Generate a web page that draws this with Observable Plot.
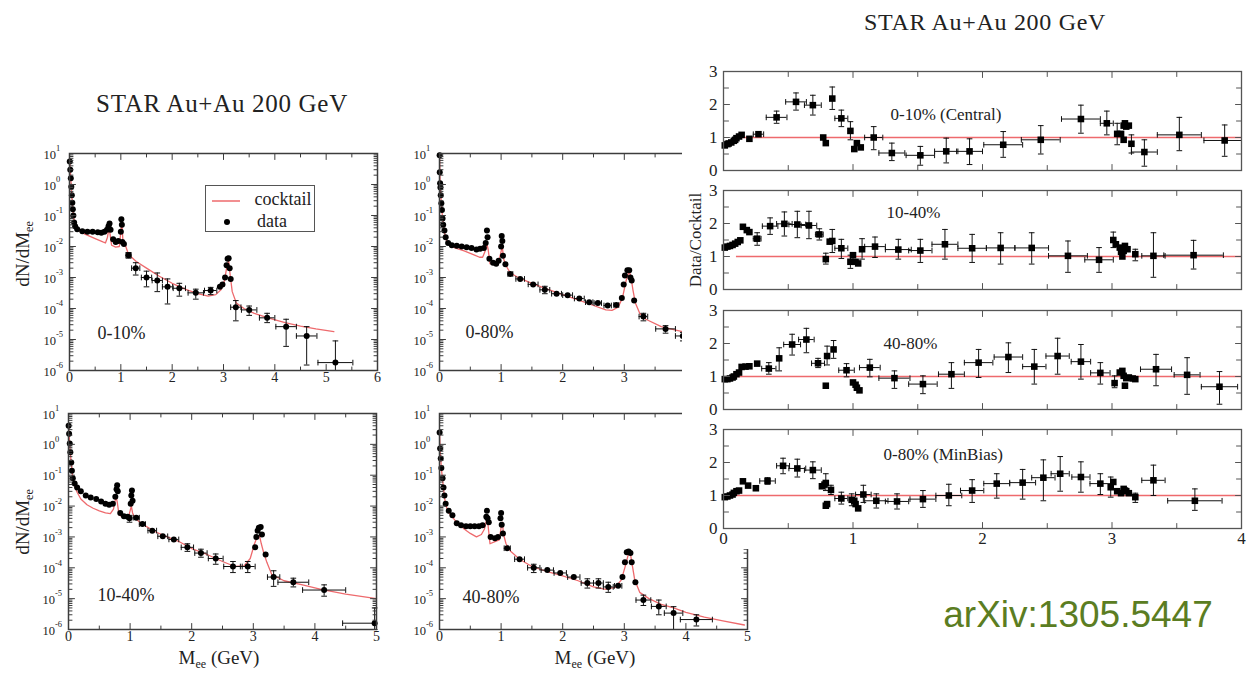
<!DOCTYPE html>
<html><head><meta charset="utf-8">
<script src="https://cdn.jsdelivr.net/npm/d3@7"></script>
<script src="https://cdn.jsdelivr.net/npm/@observablehq/plot@0.6"></script>
<style>
body{margin:0;background:#fff;}
#fig{position:relative;width:1252px;height:673px;overflow:hidden;background:#fff;font-family:"Liberation Serif","Times New Roman",serif;color:#222;}
#fig svg{position:absolute;}
.t{position:absolute;white-space:nowrap;line-height:1;}
</style></head><body><div id="fig"></div>
<script>
// ---------- tick / label arrays ----------
const xTicks6 = [0, 1, 2, 3, 4, 5, 6];
const xTicks5 = [0, 1, 2, 3, 4, 5];
const decades = [1e-6, 1e-5, 1e-4, 1e-3, 1e-2, 1e-1, 1, 10];
const ratioXTicks = [0, 1, 2, 3, 4];
const ratioYTicks = [0, 1, 2, 3];
const refRange = [0.1, 4];
const panelLabels = ["0-10%", "0-80%", "10-40%", "40-80%"];
const ratioLabels = ["0-10% (Central)", "10-40%", "40-80%", "0-80% (MinBias)"];

// ---------- dN/dMee spectra: [M, value, halfWidthM, lowEnd, highEnd] ----------
const data0010 = [[0.005,5.5],[0.015,3.0],[0.025,1.6],[0.035,0.85],[0.045,0.45],[0.055,0.26],[0.065,0.16],[0.075,0.1],[0.09,0.06],[0.11,0.045],[0.15,0.036],[0.25,0.031],[0.35,0.03],[0.45,0.03],[0.55,0.029],[0.62,0.028],[0.68,0.03],[0.73,0.035],[0.76,0.045],[0.78,0.055],[0.80,0.035],[0.85,0.017],[0.9,0.014],[0.95,0.015],[1.0,0.03],[1.01,0.075],[1.02,0.05],[1.03,0.014],[1.06,0.012],[1.15,0.0052,0.05,0.0042,0.0064],[1.29,0.002,0.08,0.0012,0.003],[1.5,0.001,0.1,0.0005,0.0016],[1.71,8e-4,0.1,3.5e-4,1.4e-3],[1.91,5e-4,0.1,1.4e-4,9e-4],[2.14,4.5e-4,0.12,2.5e-4,6.5e-4],[2.46,3.2e-4,0.15,2e-4,4.2e-4],[2.75,3.8e-4,0.12,2.8e-4,4.8e-4],[2.93,5e-4],[2.98,6e-4],[3.03,1e-3],[3.06,2.5e-3],[3.08,4e-3],[3.1,4.2e-3],[3.12,2e-3],[3.14,9e-4],[3.24,1.1e-4,0.1,4e-5,1.8e-4],[3.5,9e-5,0.15,6e-5,1.2e-4],[3.85,5e-5,0.15,3.5e-5,7e-5],[4.22,2.6e-5,0.2,6e-6,4.5e-5],[4.62,1.3e-5,0.2,1.5e-6,2.6e-5],[5.18,1.8e-6,0.34,1e-6,9e-6]];
const cocktail0010 = [[0.005,5.5],[0.02,2.2],[0.04,0.55],[0.06,0.2],[0.08,0.09],[0.1,0.055],[0.15,0.035],[0.3,0.025],[0.5,0.018],[0.65,0.014],[0.7,0.013],[0.74,0.02],[0.77,0.04],[0.79,0.025],[0.82,0.011],[0.9,0.0095],[0.97,0.01],[1.0,0.03],[1.02,0.06],[1.04,0.016],[1.08,0.012],[1.15,0.0055],[1.3,0.0033],[1.5,0.002],[1.75,0.0011],[2.0,6.5e-4],[2.25,4.2e-4],[2.5,3e-4],[2.7,2.5e-4],[2.85,2.8e-4],[2.95,4e-4],[3.02,8e-4],[3.07,2.5e-3],[3.1,3.5e-3],[3.13,1.2e-3],[3.17,3.5e-4],[3.25,1.5e-4],[3.4,1e-4],[3.6,7e-5],[3.9,4.8e-5],[4.2,3.5e-5],[4.5,2.7e-5],[4.8,2.2e-5],[5.15,1.8e-5]];

const data0080 = [[0.002,8.7],[0.004,2.5],[0.01,1.1],[0.015,0.8],[0.02,0.45],[0.03,0.25],[0.04,0.15],[0.05,0.08],[0.06,0.05],[0.08,0.033],[0.1,0.02],[0.14,0.013],[0.2,0.011],[0.28,0.0105],[0.36,0.01],[0.44,0.0095],[0.52,0.009],[0.6,0.008],[0.66,0.0085],[0.72,0.009],[0.75,0.013],[0.77,0.033],[0.78,0.02],[0.81,0.004],[0.87,0.003],[0.92,0.0028],[0.96,0.0035],[1.0,0.01],[1.01,0.022],[1.02,0.015],[1.03,0.005],[1.07,0.0027],[1.15,0.0013,0.04],[1.31,9e-4,0.07],[1.52,6e-4,0.08],[1.71,4e-4,0.08,3e-4,5.2e-4],[1.9,3e-4,0.08],[2.08,2.7e-4,0.08],[2.27,2.1e-4,0.08],[2.43,1.6e-4,0.06],[2.57,1.5e-4,0.06],[2.73,1.25e-4,0.06],[2.87,1.3e-4,0.04],[2.96,2.2e-4],[2.99,6e-4],[3.01,1.15e-3],[3.05,1.7e-3],[3.08,1.7e-3],[3.1,1e-3],[3.12,8e-4],[3.16,1.8e-4],[3.31,5.5e-5,0.07,4e-5,7e-5],[3.67,2.2e-5,0.16,1.6e-5,2.8e-5],[3.95,1.3e-5,0.12,9e-6,1.7e-5]];
const cocktail0080 = [[0.002,8],[0.01,1.2],[0.03,0.25],[0.05,0.08],[0.08,0.03],[0.1,0.018],[0.14,0.012],[0.25,0.009],[0.4,0.0072],[0.55,0.0055],[0.65,0.0045],[0.7,0.0045],[0.74,0.007],[0.77,0.012],[0.79,0.008],[0.82,0.0028],[0.88,0.0027],[0.96,0.003],[1.0,0.007],[1.02,0.01],[1.04,0.004],[1.08,0.0024],[1.15,0.0014],[1.3,9.5e-4],[1.5,6.5e-4],[1.75,4.2e-4],[2.0,2.8e-4],[2.25,1.9e-4],[2.5,1.25e-4],[2.7,9e-5],[2.8,8.7e-5],[2.9,1.1e-4],[2.97,2.2e-4],[3.03,8e-4],[3.08,1.6e-3],[3.11,1e-3],[3.14,4e-4],[3.18,1.5e-4],[3.25,7e-5],[3.35,4.5e-5],[3.6,2.6e-5],[3.8,2.1e-5],[4.0,1.7e-5]];

const data1040 = [[0.002,4.0],[0.01,2.2],[0.02,1.07],[0.03,0.55],[0.045,0.26],[0.055,0.14],[0.07,0.08],[0.1,0.054],[0.14,0.04],[0.2,0.03],[0.28,0.022],[0.36,0.019],[0.45,0.017],[0.53,0.014],[0.6,0.012],[0.66,0.011],[0.72,0.012],[0.76,0.02],[0.78,0.035],[0.79,0.047],[0.8,0.03],[0.84,0.006],[0.9,0.0047],[0.96,0.0045],[0.99,0.004,0,0.003,0.005],[1.01,0.012],[1.02,0.022],[1.03,0.032],[1.04,0.015],[1.1,0.0042,0.05],[1.2,0.0026,0.05],[1.36,1.6e-3,0.07],[1.53,1.05e-3,0.08],[1.71,8.3e-4,0.08],[1.93,4.6e-4,0.1,3.4e-4,6e-4],[2.15,3e-4,0.1,2.2e-4,4e-4],[2.39,2e-4,0.12,1.3e-4,2.8e-4],[2.67,1.1e-4,0.15,7e-5,1.6e-4],[2.91,1.1e-4,0.12,7e-5,1.6e-4],[3.03,4.6e-4],[3.05,1e-3],[3.07,1.6e-3],[3.09,2e-3],[3.12,2.1e-3],[3.14,1.2e-3],[3.2,2.7e-4],[3.33,5e-5,0.1,2.5e-5,8e-5],[3.65,3.4e-5,0.25,2.4e-5,4.6e-5],[4.15,1.9e-5,0.35,1.2e-5,2.8e-5],[4.97,1.6e-6,0.52,1e-6,5e-6]];
const cocktail1040 = [[0.002,4],[0.01,2],[0.03,0.5],[0.05,0.2],[0.07,0.08],[0.1,0.045],[0.14,0.028],[0.2,0.017],[0.3,0.011],[0.4,0.0085],[0.5,0.007],[0.6,0.006],[0.68,0.0057],[0.73,0.008],[0.77,0.02],[0.79,0.014],[0.82,0.0052],[0.9,0.0042],[0.97,0.0042],[1.0,0.007],[1.02,0.01],[1.04,0.006],[1.08,0.004],[1.2,0.0026],[1.4,0.0015],[1.6,0.001],[1.8,7e-4],[2.0,4.2e-4],[2.25,2.7e-4],[2.5,1.6e-4],[2.7,1.1e-4],[2.85,1.15e-4],[2.95,2e-4],[3.02,6e-4],[3.07,1.1e-3],[3.1,1.1e-3],[3.13,6e-4],[3.17,3e-4],[3.22,1.5e-4],[3.3,6e-5],[3.5,3.8e-5],[3.8,2.8e-5],[4.1,2e-5],[4.5,1.4e-5],[5.0,1e-5]];

const data4080 = [[0.002,2.4],[0.01,0.74],[0.02,0.35],[0.03,0.17],[0.05,0.08],[0.065,0.04],[0.08,0.022],[0.1,0.012],[0.15,0.007],[0.21,0.005],[0.28,0.0028],[0.35,0.0024],[0.43,0.0022],[0.5,0.0022],[0.57,0.0022],[0.64,0.0022],[0.7,0.0024],[0.76,0.0045],[0.77,0.007],[0.78,0.004],[0.8,0.003],[0.83,0.001],[0.9,9e-4],[0.95,1e-3],[0.99,0.004],[1.0,0.006],[1.01,0.0025],[1.03,0.0013],[1.1,4.3e-4,0.05],[1.3,1.9e-4,0.08],[1.53,1e-4,0.1,7e-5,1.3e-4],[1.75,8.4e-5,0.1],[1.96,6.8e-5,0.1],[2.18,5e-5,0.1],[2.4,3.2e-5,0.1,2.2e-5,4.4e-5],[2.58,3.2e-5,0.08,2.2e-5,4.4e-5],[2.74,2.4e-5,0.08,1.6e-5,3.4e-5],[2.9,2.6e-5,0.06],[2.97,5e-5],[3.01,1.5e-4],[3.04,3.2e-4],[3.07,3.4e-4],[3.1,3e-4],[3.12,1.5e-4],[3.18,3.4e-5],[3.31,9e-6,0.12,6e-6,1.3e-5],[3.56,5.6e-6,0.12,3e-6,9e-6],[3.8,3.4e-6,0.15,1e-6,5.5e-6],[4.17,2.1e-6,0.26,1.3e-6,3e-6]];
const cocktail4080 = [[0.002,2.4],[0.01,0.7],[0.03,0.17],[0.05,0.07],[0.08,0.02],[0.1,0.011],[0.15,0.006],[0.25,0.0035],[0.4,0.0018],[0.5,0.0013],[0.6,0.001],[0.68,0.0012],[0.73,0.0018],[0.77,0.004],[0.79,0.0022],[0.82,6e-4],[0.9,7e-4],[0.97,8e-4],[1.0,0.002],[1.02,0.003],[1.04,0.0012],[1.08,6e-4],[1.15,3.5e-4],[1.3,1.9e-4],[1.5,1.1e-4],[1.75,7.5e-5],[2.0,5.5e-5],[2.25,3.8e-5],[2.5,2.4e-5],[2.7,2e-5],[2.85,2.3e-5],[2.95,4e-5],[3.02,1.2e-4],[3.07,3e-4],[3.1,2.8e-4],[3.13,1.2e-4],[3.17,4e-5],[3.25,1.6e-5],[3.4,1e-5],[3.6,6.5e-6],[3.8,5e-6],[4.0,3.6e-6],[4.3,2.5e-6],[4.6,1.9e-6],[4.95,1.4e-6]];

// ---------- Data/Cocktail ratios: [M, ratio, halfWidthM, lowEnd, highEnd] ----------
const ratioCentral = [[0.01,0.76],[0.03,0.8],[0.04,0.82],[0.06,0.85],[0.08,0.9],[0.09,0.93],[0.1,0.98],[0.12,1.03],[0.14,1.08],[0.2,0.96],[0.27,1.1,0.04],[0.41,1.61,0.08,1.43,1.8],[0.56,2.08,0.08,1.83,2.35],[0.69,1.98,0.065,1.68,2.28],[0.77,1.0],[0.79,0.83],[0.84,2.18,0,1.85,2.53],[0.91,1.58,0.05,1.33,1.83],[0.98,1.2,0,0.93,1.48],[1.01,0.65],[1.03,0.83],[1.06,0.7],[1.16,1.0,0.07,0.63,1.33],[1.3,0.53,0.1,0.3,0.83],[1.52,0.46,0.11,0.16,0.73],[1.72,0.58,0.09,0.23,0.98],[1.9,0.58,0.1,0.18,0.96],[2.16,0.78,0.15,0.4,1.18],[2.45,0.93,0.15,0.5,1.36],[2.76,1.56,0.15,1.13,1.98],[2.96,1.43,0.05,1.08,1.8],[3.04,1.11,0,0.78,1.43],[3.07,1.11],[3.09,0.93],[3.09,1.36],[3.1,1.43],[3.11,1.33],[3.13,1.36],[3.15,0.81,0,0.53,1.08],[3.25,0.56,0.1,0.13,0.93],[3.52,1.08,0.17,0.6,1.61],[3.87,0.91,0.16,0.43,1.38]];
const ratio1040 = [[0.01,1.27],[0.03,1.3],[0.05,1.32],[0.07,1.35],[0.09,1.39],[0.11,1.44],[0.13,1.49],[0.15,1.9],[0.18,1.8],[0.2,1.74],[0.26,1.54,0.03,1.34,1.72],[0.36,1.92,0.06,1.67,2.17],[0.47,1.99,0.06,1.62,2.35],[0.57,1.97,0.065,1.57,2.37],[0.66,1.94,0.06,1.54,2.37],[0.74,1.67,0.03,1.5,1.84],[0.79,0.92,0,0.77,1.1],[0.82,1.45],[0.84,1.47,0,1.12,1.82],[0.91,1.25,0.05,0.94,1.52],[0.98,0.84,0,0.64,1.04],[1.0,1.04],[1.02,0.84],[1.04,0.79],[1.07,1.22,0,0.92,1.54],[1.17,1.3,0.08,0.97,1.59],[1.35,1.21,0.1,0.92,1.52],[1.52,1.18,0.09,0.82,1.52],[1.71,1.37,0.1,0.92,1.82],[1.92,1.25,0.11,0.82,1.67],[2.14,1.26,0.11,0.77,1.72],[2.38,1.26,0.13,0.77,1.72],[2.66,1.02,0.15,0.52,1.47],[2.9,0.9,0.11,0.52,1.27],[3.01,1.5,0,1.27,1.74],[3.03,1.37],[3.06,1.27],[3.07,1.14],[3.08,1.0],[3.09,1.17],[3.1,1.32],[3.12,1.22],[3.18,1.07,0,0.87,1.22],[3.32,1.02,0.09,0.37,1.72],[3.63,1.04,0.23,0.62,1.49]];
const ratio4080 = [[0.01,0.92],[0.03,0.92],[0.05,0.94],[0.07,0.97],[0.08,1.0],[0.1,1.07],[0.12,1.12],[0.14,1.29],[0.17,1.3],[0.2,1.31],[0.26,1.39],[0.35,1.24,0.055,1.07,1.42],[0.43,1.55,0,1.17,1.87],[0.53,1.97,0.065,1.65,2.28],[0.64,2.12,0.06,1.72,2.46],[0.73,1.4,0.05,1.27,1.55],[0.79,0.72],[0.8,1.62,0,1.35,1.92],[0.85,1.82,0,1.55,2.09],[0.95,1.19,0.06,0.99,1.39],[1.0,0.82],[1.02,0.75],[1.03,0.66],[1.05,0.58],[1.13,1.27,0.08,0.99,1.52],[1.32,0.95,0.12,0.64,1.17],[1.54,0.77,0.11,0.48,1.02],[1.76,1.07,0.1,0.64,1.42],[1.97,1.42,0.11,0.97,1.82],[2.2,1.59,0.11,1.12,2.02],[2.4,1.3,0.09,0.77,1.82],[2.58,1.62,0.09,1.07,2.16],[2.76,1.45,0.075,0.92,1.97],[2.91,1.11,0.075,0.77,1.42],[3.02,0.8,0,0.66,1.02],[3.06,1.12],[3.08,1.17],[3.09,1.02],[3.1,0.72],[3.11,0.95],[3.13,0.97],[3.16,0.94],[3.18,0.92],[3.34,1.22,0.12,0.72,1.67],[3.58,1.05,0.1,0.46,1.57],[3.83,0.69,0.14,0.16,1.15]];
const ratioMinBias = [[0.01,0.95],[0.03,0.97],[0.05,1.0],[0.07,1.03],[0.08,1.08],[0.1,1.13],[0.12,1.15],[0.15,1.43],[0.19,1.3],[0.25,1.22],[0.34,1.44,0.06,1.34,1.54],[0.46,1.9,0.05,1.66,2.13],[0.57,1.82,0.065,1.56,2.1],[0.69,1.77,0.065,1.51,2.02],[0.76,1.28],[0.78,1.33],[0.79,1.38,0,1.15,1.66],[0.79,0.69],[0.8,0.74],[0.83,1.17,0,1.03,1.31],[0.91,0.91,0.05,0.74,1.1],[0.99,0.87,0,0.69,1.05],[1.01,0.84],[1.02,0.74],[1.04,0.61],[1.08,1.03,0.06,0.79,1.31],[1.18,0.84,0.09,0.62,1.05],[1.34,0.82,0.09,0.59,1.05],[1.54,0.89,0.1,0.64,1.15],[1.74,1.0,0.1,0.69,1.34],[1.92,1.15,0.09,0.79,1.48],[2.11,1.36,0.1,0.92,1.66],[2.31,1.39,0.1,0.89,1.79],[2.47,1.54,0.09,0.84,2.08],[2.6,1.66,0.07,1.13,2.18],[2.76,1.56,0.07,1.1,2.02],[2.91,1.36,0.08,1.03,1.66],[2.99,1.25,0,0.95,1.56],[3.01,1.41],[3.04,1.13],[3.07,1.07],[3.09,1.2],[3.1,1.15],[3.11,1.13],[3.13,1.07],[3.18,0.95,0,0.79,1.07],[3.32,1.46,0.09,1.0,1.92],[3.64,0.84,0.21,0.55,1.2]];

// ---------- helpers ----------
const SERIF = '"Liberation Serif","Times New Roman",serif';
const RED = "#ee6a6d";
const FRAME = "#3c3c3c";
const INK = "#111";
const fig = document.getElementById("fig");
const toObj = rows => rows.map(([m, v, dm = 0, lo = null, hi = null]) => ({m, v, dm, lo, hi}));
const hcap = {draw(c, s) { const w = Math.sqrt(s) / 2; c.moveTo(-w, 0); c.lineTo(w, 0); }};
const vcap = {draw(c, s) { const w = Math.sqrt(s) / 2; c.moveTo(0, -w); c.lineTo(0, w); }};
const stick = {draw(c, l) { c.moveTo(0, 0); c.lineTo(0, -l); }};

function errorMarks(pts, capR) {
  const ye = pts.filter(d => d.lo != null);
  const xe = pts.filter(d => d.dm > 0);
  const st = {stroke: INK, strokeWidth: 1, clip: true};
  const cap = {symbol: hcap, r: capR, fill: "none", stroke: INK, strokeWidth: 1};
  const capv = {symbol: vcap, r: capR, fill: "none", stroke: INK, strokeWidth: 1};
  return [
    Plot.ruleX(ye, {x: "m", y1: "lo", y2: "hi", ...st}),
    Plot.dot(ye, {x: "m", y: "lo", ...cap}),
    Plot.dot(ye, {x: "m", y: "hi", ...cap}),
    Plot.ruleY(xe, {y: "v", x1: d => d.m - d.dm, x2: d => d.m + d.dm, ...st}),
    Plot.dot(xe, {x: d => d.m - d.dm, y: "v", ...capv, clip: true}),
    Plot.dot(xe, {x: d => d.m + d.dm, y: "v", ...capv, clip: true})
  ];
}
// inward tick marks on all four sides of the frame
function inTicks(xt, yt, len, color) {
  const o = {length: len, shape: stick, anchor: "start", stroke: color, strokeWidth: 1};
  return [
    Plot.vector(xt, {x: d => d, frameAnchor: "bottom", rotate: 0, ...o}),
    Plot.vector(xt, {x: d => d, frameAnchor: "top", rotate: 180, ...o}),
    Plot.vector(yt, {y: d => d, frameAnchor: "left", rotate: 90, ...o}),
    Plot.vector(yt, {y: d => d, frameAnchor: "right", rotate: -90, ...o})
  ];
}

function place(svg, left, top, parent = fig) {
  svg.style.left = left + "px"; svg.style.top = top + "px";
  parent.appendChild(svg);
}
function text(html, cx, cy, css = {}, rotate = false, parent = fig) {
  const d = document.createElement("div");
  d.className = "t"; d.innerHTML = html;
  d.style.left = cx + "px"; d.style.top = cy + "px";
  d.style.transform = "translate(-50%,-50%)" + (rotate ? " rotate(-90deg)" : "");
  Object.assign(d.style, css);
  parent.appendChild(d);
  return d;
}

function leftPanel({rows, cocktail, xTicks, label, left, top, width, height, ml, mr, mt, mb, ldx, ldy}) {
  const pts = toObj(rows);
  const line = cocktail.map(([m, v]) => ({m, v}));
  const xmax = xTicks[xTicks.length - 1];
  const minorX = d3.range(0.5, xmax, 1);
  const minorY = decades.slice(0, -1).flatMap(d => d3.range(2, 10).map(k => k * d));
  const svg = Plot.plot({
    width, height, marginLeft: ml, marginRight: mr, marginTop: mt, marginBottom: mb,
    x: {domain: [0, xmax], axis: null},
    y: {type: "log", domain: [1e-6, 10], axis: null},
    style: {background: "none", fontFamily: SERIF, fontSize: "14px", color: "#222", overflow: "visible"},
    marks: [
      Plot.line(line, {x: "m", y: "v", stroke: RED, strokeWidth: 1.3}),
      ...errorMarks(pts, 3.2),
      Plot.dot(pts, {x: "m", y: "v", r: 3, fill: "#000"}),
      ...inTicks(xTicks, decades, 6, FRAME),
      ...inTicks(minorX, minorY, 3.5, FRAME),
      Plot.frame({stroke: FRAME, strokeWidth: 1.5}),
      Plot.text(xTicks, {x: d => d, frameAnchor: "bottom", dy: 11, text: d => String(d), fontSize: 14, fill: "#222"}),
      Plot.text(decades, {y: d => d, frameAnchor: "left", dx: -26, dy: 1, text: () => "10", textAnchor: "start", fontSize: 12.5, fill: "#222"}),
      Plot.text(decades, {y: d => d, frameAnchor: "left", dx: -13.5, dy: -5, text: d => String(Math.round(Math.log10(d))), textAnchor: "start", fontSize: 8.5, fill: "#222"}),
      Plot.text([label], {frameAnchor: "bottom-left", dx: ldx, dy: ldy, text: d => d, textAnchor: "start", fontSize: 18, fill: "#222"})
    ]
  });
  place(svg, left, top);
}

function ratioPanel({rows, label, top, last, ldx, ldy}, parent) {
  const pts = toObj(rows);
  const mt = 10, mb = last ? 30 : 10;
  const svg = Plot.plot({
    width: 570, height: 99 + mt + mb, marginLeft: 41, marginRight: 11, marginTop: mt, marginBottom: mb,
    x: {domain: [0, 4], axis: null},
    y: {domain: [0, 3], axis: null},
    style: {background: "none", fontFamily: SERIF, fontSize: "16px", color: "#222", overflow: "visible"},
    marks: [
      Plot.ruleY([1], {x1: refRange[0], x2: refRange[1], stroke: RED, strokeWidth: 1.4}),
      ...errorMarks(pts, 3.2),
      Plot.dot(pts, {x: "m", y: "v", r: 3.7, symbol: "square", fill: "#000"}),
      ...inTicks(ratioXTicks, ratioYTicks, 6, "#555"),
      ...inTicks(d3.range(0.5, 4, 1), [0.5, 1.5, 2.5], 5, "#555"),
      Plot.frame({stroke: "#555", strokeWidth: 1.3}),
      Plot.text(ratioYTicks, {y: d => d, frameAnchor: "left", dx: -6, text: d => String(d), textAnchor: "end", fontSize: 17, fill: "#222"}),
      ...(last ? [Plot.text(ratioXTicks, {x: d => d, frameAnchor: "bottom", dy: 15, text: d => String(d), fontSize: 17, fill: "#222"})] : []),
      Plot.text([label], {frameAnchor: "top-left", dx: ldx, dy: ldy, text: d => d, textAnchor: "start", fontSize: 17, fill: "#222"})
    ]
  });
  place(svg, 0, top - mt, parent);
}

// ---------- left figure ----------
text("STAR Au+Au 200 GeV", 222, 103, {fontSize: "25px", letterSpacing: "0.7px"});
leftPanel({rows: data0010, cocktail: cocktail0010, xTicks: xTicks6, label: panelLabels[0], left: 0, top: 130, width: 390, height: 265, ml: 69, mr: 13, mt: 23, mb: 25, ldx: 28, ldy: -32});
leftPanel({rows: data0080, cocktail: cocktail0080, xTicks: xTicks5, label: panelLabels[1], left: 390, top: 130, width: 370, height: 265, ml: 49, mr: 13, mt: 23, mb: 25, ldx: 26, ldy: -33});
leftPanel({rows: data1040, cocktail: cocktail1040, xTicks: xTicks5, label: panelLabels[2], left: 0, top: 400, width: 390, height: 273, ml: 68, mr: 14, mt: 13, mb: 44, ldx: 29, ldy: -29});
leftPanel({rows: data4080, cocktail: cocktail4080, xTicks: xTicks5, label: panelLabels[3], left: 390, top: 400, width: 370, height: 273, ml: 49, mr: 13, mt: 13, mb: 44, ldx: 23, ldy: -27});

text("dN/dM<sub style='font-size:12px'>ee</sub>", 24, 254, {fontSize: "19px"}, true);
text("dN/dM<sub style='font-size:12px'>ee</sub>", 24, 522, {fontSize: "19px"}, true);
text("M<sub style='font-size:12px'>ee</sub> (GeV)", 219, 659, {fontSize: "19px"});
text("M<sub style='font-size:12px'>ee</sub> (GeV)", 595, 659, {fontSize: "19px"});

// legend inside the 0-10% panel
const leg = document.createElement("div");
Object.assign(leg.style, {position: "absolute", left: "205px", top: "185px", width: "110px", height: "47px", border: "1px solid #555", boxSizing: "border-box", background: "#fff"});
leg.innerHTML = `<svg width="108" height="45" style="position:absolute;left:0;top:0">
  <line x1="6" y1="15" x2="34" y2="15" stroke="${RED}" stroke-width="1.5"/>
  <circle cx="21" cy="36" r="3" fill="#000"/></svg>`;
fig.appendChild(leg);
text("cocktail", 283, 199, {fontSize: "18px"});
text("data", 272, 221, {fontSize: "18px"});

// ---------- right figure (opaque, covers the edge of the middle panels) ----------
const ov = document.createElement("div");
Object.assign(ov.style, {position: "absolute", left: "682px", top: "0px", width: "570px", height: "549px", background: "#fff"});
fig.appendChild(ov);
ratioPanel({rows: ratioCentral, label: ratioLabels[0], top: 71, last: false, ldx: 167, ldy: 36}, ov);
ratioPanel({rows: ratio1040, label: ratioLabels[1], top: 190, last: false, ldx: 163, ldy: 15}, ov);
ratioPanel({rows: ratio4080, label: ratioLabels[2], top: 310, last: false, ldx: 160, ldy: 26}, ov);
ratioPanel({rows: ratioMinBias, label: ratioLabels[3], top: 429, last: true, ldx: 160, ldy: 18}, ov);
text("STAR Au+Au 200 GeV", 985, 22, {fontSize: "24px", letterSpacing: "0.7px"});
text("Data/Cocktail", 695, 240, {fontSize: "17px"}, true);

text("arXiv:1305.5447", 1078, 614, {fontFamily: '"Liberation Sans",Arial,sans-serif', fontSize: "37px", color: "#5b7d22"});
</script></body></html>
